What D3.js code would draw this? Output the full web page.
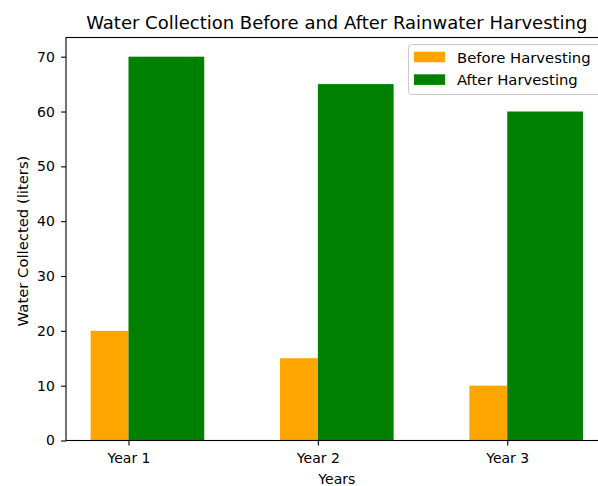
<!DOCTYPE html>
<html>
<head>
<meta charset="utf-8">
<script src="https://cdn.jsdelivr.net/npm/d3@7"></script>
<style>
  body { margin: 0; background: #fff; }
  svg { display: block; overflow: hidden; }
  text { font-family: "DejaVu Sans", sans-serif; fill: #000; }
</style>
</head>
<body>
<div id="chart"></div>
<script>
var years = ['Year 1', 'Year 2', 'Year 3'];
var beforeValues = [20, 15, 10];
var afterValues = [70, 65, 60];
var seriesNames = ['Before Harvesting', 'After Harvesting'];
var seriesColors = ['#ffa500', '#008000'];
var yTicks = [0, 10, 20, 30, 40, 50, 60, 70];

var width = 598, height = 486;
var plot = { left: 66, right: 607.6, top: 37.5, bottom: 440.5 };

// bar widths in data units (before is narrow, after is wider)
var wBefore = 0.2, wAfter = 0.4;

var svg = d3.select('#chart').append('svg')
    .attr('width', width)
    .attr('height', height);

// x extent from bars, plus 5% margin like matplotlib
var xLo = 0 - wBefore, xHi = (years.length - 1) + wAfter;
var pad = (xHi - xLo) * 0.05;
var x = d3.scaleLinear()
    .domain([xLo - pad, xHi + pad])
    .range([plot.left, plot.right]);

var yMax = d3.max(afterValues) * 1.05;
var y = d3.scaleLinear()
    .domain([0, yMax])
    .range([plot.bottom, plot.top]);

// bars
svg.append('g').selectAll('rect')
    .data(beforeValues)
    .enter().append('rect')
    .attr('x', function (d, i) { return x(i - wBefore); })
    .attr('width', function (d, i) { return x(i) - x(i - wBefore); })
    .attr('y', function (d) { return y(d); })
    .attr('height', function (d) { return y(0) - y(d); })
    .attr('fill', seriesColors[0]);

svg.append('g').selectAll('rect')
    .data(afterValues)
    .enter().append('rect')
    .attr('x', function (d, i) { return x(i); })
    .attr('width', function (d, i) { return x(i + wAfter) - x(i); })
    .attr('y', function (d) { return y(d); })
    .attr('height', function (d) { return y(0) - y(d); })
    .attr('fill', seriesColors[1]);

// axes
var xAxis = d3.axisBottom(x)
    .tickValues(d3.range(years.length))
    .tickFormat(function (d) { return years[d]; })
    .tickSize(4.9).tickPadding(7.5);
var gx = svg.append('g')
    .attr('transform', 'translate(0,' + plot.bottom + ')')
    .call(xAxis);
gx.select('.domain').remove();
gx.selectAll('text').style('font-size', '14px').attr('font-family', null);

var yAxis = d3.axisLeft(y)
    .tickValues(yTicks)
    .tickSize(4.9).tickPadding(6.2);
var gy = svg.append('g')
    .attr('transform', 'translate(' + plot.left + ',0)')
    .call(yAxis);
gy.select('.domain').remove();
gy.selectAll('text').style('font-size', '14px').attr('font-family', null);
svg.selectAll('.tick line').attr('stroke', '#000').attr('stroke-width', 1.1);

// spines
svg.append('rect')
    .attr('x', plot.left).attr('y', plot.top)
    .attr('width', plot.right - plot.left)
    .attr('height', plot.bottom - plot.top)
    .attr('fill', 'none')
    .attr('stroke', '#000')
    .attr('stroke-width', 1.1);

// title and labels
svg.append('text')
    .attr('x', (plot.left + plot.right) / 2)
    .attr('y', 28.5)
    .attr('text-anchor', 'middle')
    .style('font-size', '18px')
    .text('Water Collection Before and After Rainwater Harvesting');

svg.append('text')
    .attr('x', (plot.left + plot.right) / 2)
    .attr('y', 483.5)
    .attr('text-anchor', 'middle')
    .style('font-size', '14px')
    .text('Years');

svg.append('text')
    .attr('transform', 'translate(28.3,' + ((plot.top + plot.bottom) / 2 + 2) + ') rotate(-90)')
    .attr('text-anchor', 'middle')
    .style('font-size', '14.8px')
    .text('Water Collected (liters)');

// legend
var lg = svg.append('g');
lg.append('rect')
    .attr('x', 408.5).attr('y', 44.5)
    .attr('width', 200).attr('height', 50)
    .attr('rx', 3)
    .attr('fill', '#fff').attr('fill-opacity', 0.8)
    .attr('stroke', '#ccc');

lg.selectAll('.sw')
    .data(seriesNames)
    .enter().append('rect')
    .attr('x', 414)
    .attr('y', function (d, i) { return 51.7 + i * 22.6; })
    .attr('width', 31)
    .attr('height', 10.6)
    .attr('fill', function (d, i) { return seriesColors[i]; });

lg.selectAll('.lt')
    .data(seriesNames)
    .enter().append('text')
    .attr('x', 457)
    .attr('y', function (d, i) { return 63 + i * 22.3; })
    .style('font-size', '14.8px')
    .text(function (d) { return d; });
</script>
</body>
</html>
